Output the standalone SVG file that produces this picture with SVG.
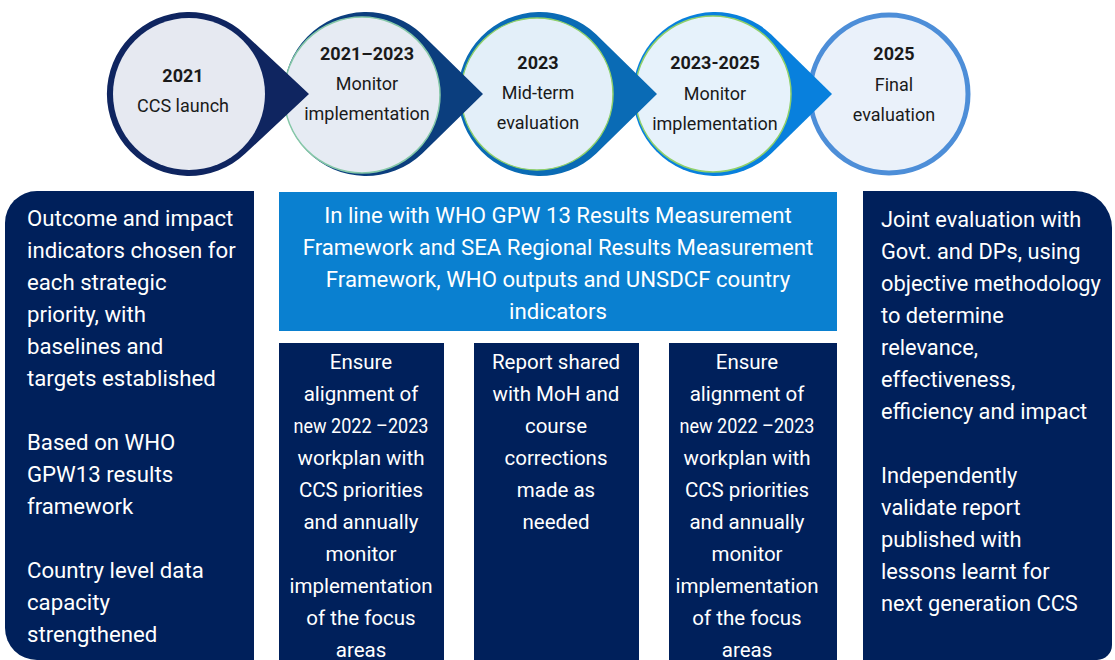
<svg xmlns="http://www.w3.org/2000/svg" width="1115" height="660" viewBox="0 0 1115 660">
<style>
text{font-family:Roboto,"Liberation Sans",sans-serif;}
.ct{font-size:18px;fill:#1a1a1a;text-anchor:middle;}
.cb{font-weight:bold;}
.bt{font-size:22.2px;fill:#ffffff;}
.rt{font-size:21.8px;fill:#ffffff;}
.kt{font-size:20.5px;fill:#ffffff;text-anchor:middle;}
.mid{text-anchor:middle;}
.navy{fill:#00205b;}
.inner{stroke:#8fd06a;stroke-width:1.5;}
</style>
<rect width="1115" height="660" fill="#ffffff"/>
<g id="connectors"></g>
<g id="node5">
<circle cx="889" cy="94" r="79" fill="#eaf1fa" stroke="#4d8ed8" stroke-width="5"/>
<text class="ct cb" x="894" y="60">2025</text>
<text class="ct" x="894" y="91">Final</text>
<text class="ct" x="894" y="121">evaluation</text>
</g>
<g id="node4">
<path d="M832,94 L771,34.2 A82,82 0 1 0 771,153.8 Z" fill="#0880dd"/>
<circle class="inner" cx="713" cy="94" r="78" fill="#e6f2fb"/>
<text class="ct cb" x="715" y="69">2023-2025</text>
<text class="ct" x="715" y="100">Monitor</text>
<text class="ct" x="715" y="130">implementation</text>
</g>
<g id="node3">
<path d="M657,94 L596,34.2 A82,82 0 1 0 596,153.8 Z" fill="#0a6bb5"/>
<circle class="inner" cx="537" cy="94" r="76" fill="#e3eff9"/>
<text class="ct cb" x="538" y="69">2023</text>
<text class="ct" x="538" y="99">Mid-term</text>
<text class="ct" x="538" y="129">evaluation</text>
</g>
<g id="node2">
<path d="M483,94 L422,34.2 A82,82 0 1 0 422,153.8 Z" fill="#0b3e7e"/>
<circle cx="362" cy="95" r="78" fill="#e6ebf3" stroke="#86c8a8" stroke-width="1.5"/>
<text class="ct cb" x="367" y="60">2021–2023</text>
<text class="ct" x="367" y="90">Monitor</text>
<text class="ct" x="367" y="120">implementation</text>
</g>
<g id="node1">
<path d="M309,94 L245,34.2 A82,82 0 1 0 245,153.8 Z" fill="#0f2560"/>
<circle cx="189" cy="94" r="76" fill="#e6e9f1"/>
<text class="ct cb" x="183" y="82">2021</text>
<text class="ct" x="183" y="112">CCS launch</text>
</g>
<g id="left-box">
<path class="navy" d="M254,191 L37,191 A32,32 0 0 0 5,223 L5,628 A32,32 0 0 0 37,660 L254,660 Z"/>
<text class="bt" x="27" y="226">Outcome and impact</text>
<text class="bt" x="27" y="258">indicators chosen for</text>
<text class="bt" x="27" y="290">each strategic</text>
<text class="bt" x="27" y="322">priority, with</text>
<text class="bt" x="27" y="354">baselines and</text>
<text class="bt" x="27" y="386">targets established</text>
<text class="bt" x="27" y="450">Based on WHO</text>
<text class="bt" x="27" y="482">GPW13 results</text>
<text class="bt" x="27" y="514">framework</text>
<text class="bt" x="27" y="578">Country level data</text>
<text class="bt" x="27" y="610">capacity</text>
<text class="bt" x="27" y="642">strengthened</text>
</g>
<g id="blue-box">
<rect x="279" y="192" width="558" height="139" fill="#0a80d0"/>
<text class="bt mid" x="558" y="223">In line with WHO GPW 13 Results Measurement</text>
<text class="bt mid" x="558" y="255">Framework and SEA Regional Results Measurement</text>
<text class="bt mid" x="558" y="287">Framework, WHO outputs and UNSDCF country</text>
<text class="bt mid" x="558" y="319">indicators</text>
</g>
<g id="col1">
<rect class="navy" x="279" y="343" width="165" height="317"/>
<text class="kt" x="361" y="369">Ensure</text>
<text class="kt" x="361" y="401">alignment of</text>
<text class="kt" x="361" y="433" textLength="135" lengthAdjust="spacingAndGlyphs">new 2022 –2023</text>
<text class="kt" x="361" y="465">workplan with</text>
<text class="kt" x="361" y="497">CCS priorities</text>
<text class="kt" x="361" y="529">and annually</text>
<text class="kt" x="361" y="561">monitor</text>
<text class="kt" x="361" y="593">implementation</text>
<text class="kt" x="361" y="625">of the focus</text>
<text class="kt" x="361" y="657">areas</text>
</g>
<g id="col2">
<rect class="navy" x="474" y="343" width="165" height="317"/>
<text class="kt" x="556" y="369">Report shared</text>
<text class="kt" x="556" y="401">with MoH and</text>
<text class="kt" x="556" y="433">course</text>
<text class="kt" x="556" y="465">corrections</text>
<text class="kt" x="556" y="497">made as</text>
<text class="kt" x="556" y="529">needed</text>
</g>
<g id="col3">
<rect class="navy" x="669" y="343" width="168" height="317"/>
<text class="kt" x="747" y="369">Ensure</text>
<text class="kt" x="747" y="401">alignment of</text>
<text class="kt" x="747" y="433" textLength="135" lengthAdjust="spacingAndGlyphs">new 2022 –2023</text>
<text class="kt" x="747" y="465">workplan with</text>
<text class="kt" x="747" y="497">CCS priorities</text>
<text class="kt" x="747" y="529">and annually</text>
<text class="kt" x="747" y="561">monitor</text>
<text class="kt" x="747" y="593">implementation</text>
<text class="kt" x="747" y="625">of the focus</text>
<text class="kt" x="747" y="657">areas</text>
</g>
<g id="right-box">
<path class="navy" d="M863,191 L1075,191 A37,37 0 0 1 1112,228 L1112,645 A15,15 0 0 1 1097,660 L863,660 Z"/>
<text class="rt" x="881" y="227">Joint evaluation with</text>
<text class="rt" x="881" y="259">Govt. and DPs, using</text>
<text class="rt" x="881" y="291">objective methodology</text>
<text class="rt" x="881" y="323">to determine</text>
<text class="rt" x="881" y="355">relevance,</text>
<text class="rt" x="881" y="387">effectiveness,</text>
<text class="rt" x="881" y="419">efficiency and impact</text>
<text class="rt" x="881" y="483">Independently</text>
<text class="rt" x="881" y="515">validate report</text>
<text class="rt" x="881" y="547">published with</text>
<text class="rt" x="881" y="579">lessons learnt for</text>
<text class="rt" x="881" y="611">next generation CCS</text>
</g>
</svg>
